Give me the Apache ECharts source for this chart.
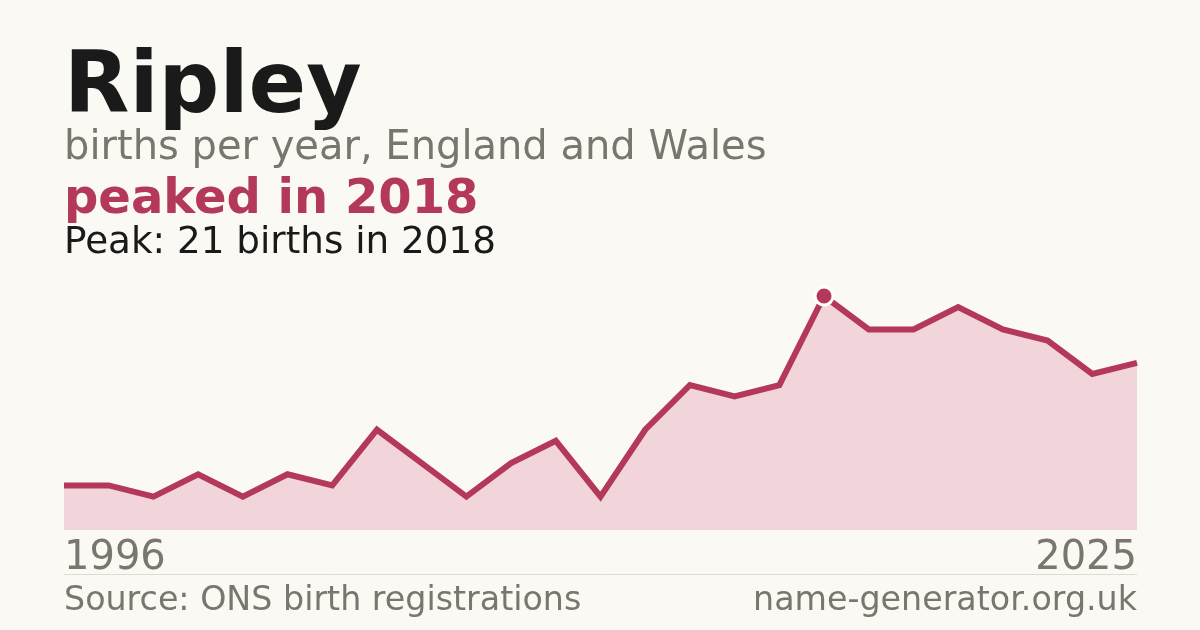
<!DOCTYPE html>
<html>
<head>
<meta charset="utf-8">
<script src="https://cdn.jsdelivr.net/npm/echarts@6/dist/echarts.min.js"></script>
<style>
  html, body { margin: 0; padding: 0; background: #faf9f4; }
  #chart { width: 1200px; height: 630px; }
</style>
</head>
<body>
<div id="chart"></div>
<script>
// births per year (years with fewer than 3 births are not published)
var years = [1996, 1997, 1998, 2000, 2001, 2003, 2005, 2006, 2008, 2010,
             2011, 2012, 2013, 2014, 2015, 2016, 2017, 2018, 2019, 2020,
             2021, 2022, 2023, 2024, 2025];
var births = [4, 4, 3, 5, 3, 5, 4, 9, 6, 3,
              6, 8, 3, 9, 13, 12, 13, 21, 18, 18,
              20, 18, 17, 14, 15];
var peakYear = 2018;
var peakValue = 21;

var red = '#b3385a';
var grey = '#7a756d';
var font = 'DejaVu Sans';

var myChart = echarts.init(document.getElementById('chart'));

var peakIdx = years.indexOf(peakYear);
var lastIdx = years.length - 1;

var option = {
    backgroundColor: '#faf9f4',
    animation: false,
    grid: { left: 64, right: 63, top: 262.6, bottom: 100 },
    xAxis: {
        type: 'category',
        boundaryGap: false,
        data: years.map(String),
        axisLine: { show: false },
        axisTick: { show: false },
        splitLine: { show: false },
        axisLabel: {
            interval: function (i) { return i === 0 || i === lastIdx; },
            showMinLabel: true,
            showMaxLabel: true,
            alignMinLabel: 'left',
            alignMaxLabel: 'right',
            verticalAlign: 'middle',
            margin: 28.5,
            color: grey,
            fontFamily: font,
            fontSize: 40
        }
    },
    yAxis: {
        type: 'value',
        min: 0,
        max: 24,
        show: false
    },
    series: [{
        type: 'line',
        data: births,
        symbol: 'none',
        lineStyle: { color: red, width: 6, join: 'miter' },
        areaStyle: { color: '#f1d5da', opacity: 1 },
        markPoint: {
            symbol: 'circle',
            symbolSize: 18,
            label: { show: false },
            itemStyle: { color: red, borderColor: '#ffffff', borderWidth: 3 },
            data: [{ coord: [peakIdx, peakValue] }]
        }
    }],
    graphic: [
        { type: 'text', x: 64, y: 90, style: { text: 'Ripley', fill: '#1a1a1a', font: 'bold 85px "DejaVu Sans"', verticalAlign: 'middle' } },
        { type: 'text', x: 64, y: 148.2, style: { text: 'births per year, England and Wales', fill: grey, font: '40px "DejaVu Sans"', verticalAlign: 'middle' } },
        { type: 'text', x: 64, y: 201, style: { text: 'peaked in ' + peakYear, fill: red, font: 'bold 48px "DejaVu Sans"', verticalAlign: 'middle' } },
        { type: 'text', x: 64, y: 243.5, style: { text: 'Peak: ' + peakValue + ' births in ' + peakYear, fill: '#1a1a1a', font: '37.3px "DejaVu Sans"', verticalAlign: 'middle' } },
        { type: 'line', shape: { x1: 64, y1: 574.5, x2: 1137, y2: 574.5 }, style: { stroke: '#dedbd3', lineWidth: 1 } },
        { type: 'text', x: 64, y: 601.5, style: { text: 'Source: ONS birth registrations', fill: grey, font: '33.3px "DejaVu Sans"', verticalAlign: 'middle' } },
        { type: 'text', x: 1137, y: 601.5, style: { text: 'name-generator.org.uk', fill: grey, font: '33.3px "DejaVu Sans"', verticalAlign: 'middle', align: 'right' } }
    ]
};

myChart.setOption(option);
</script>
</body>
</html>
